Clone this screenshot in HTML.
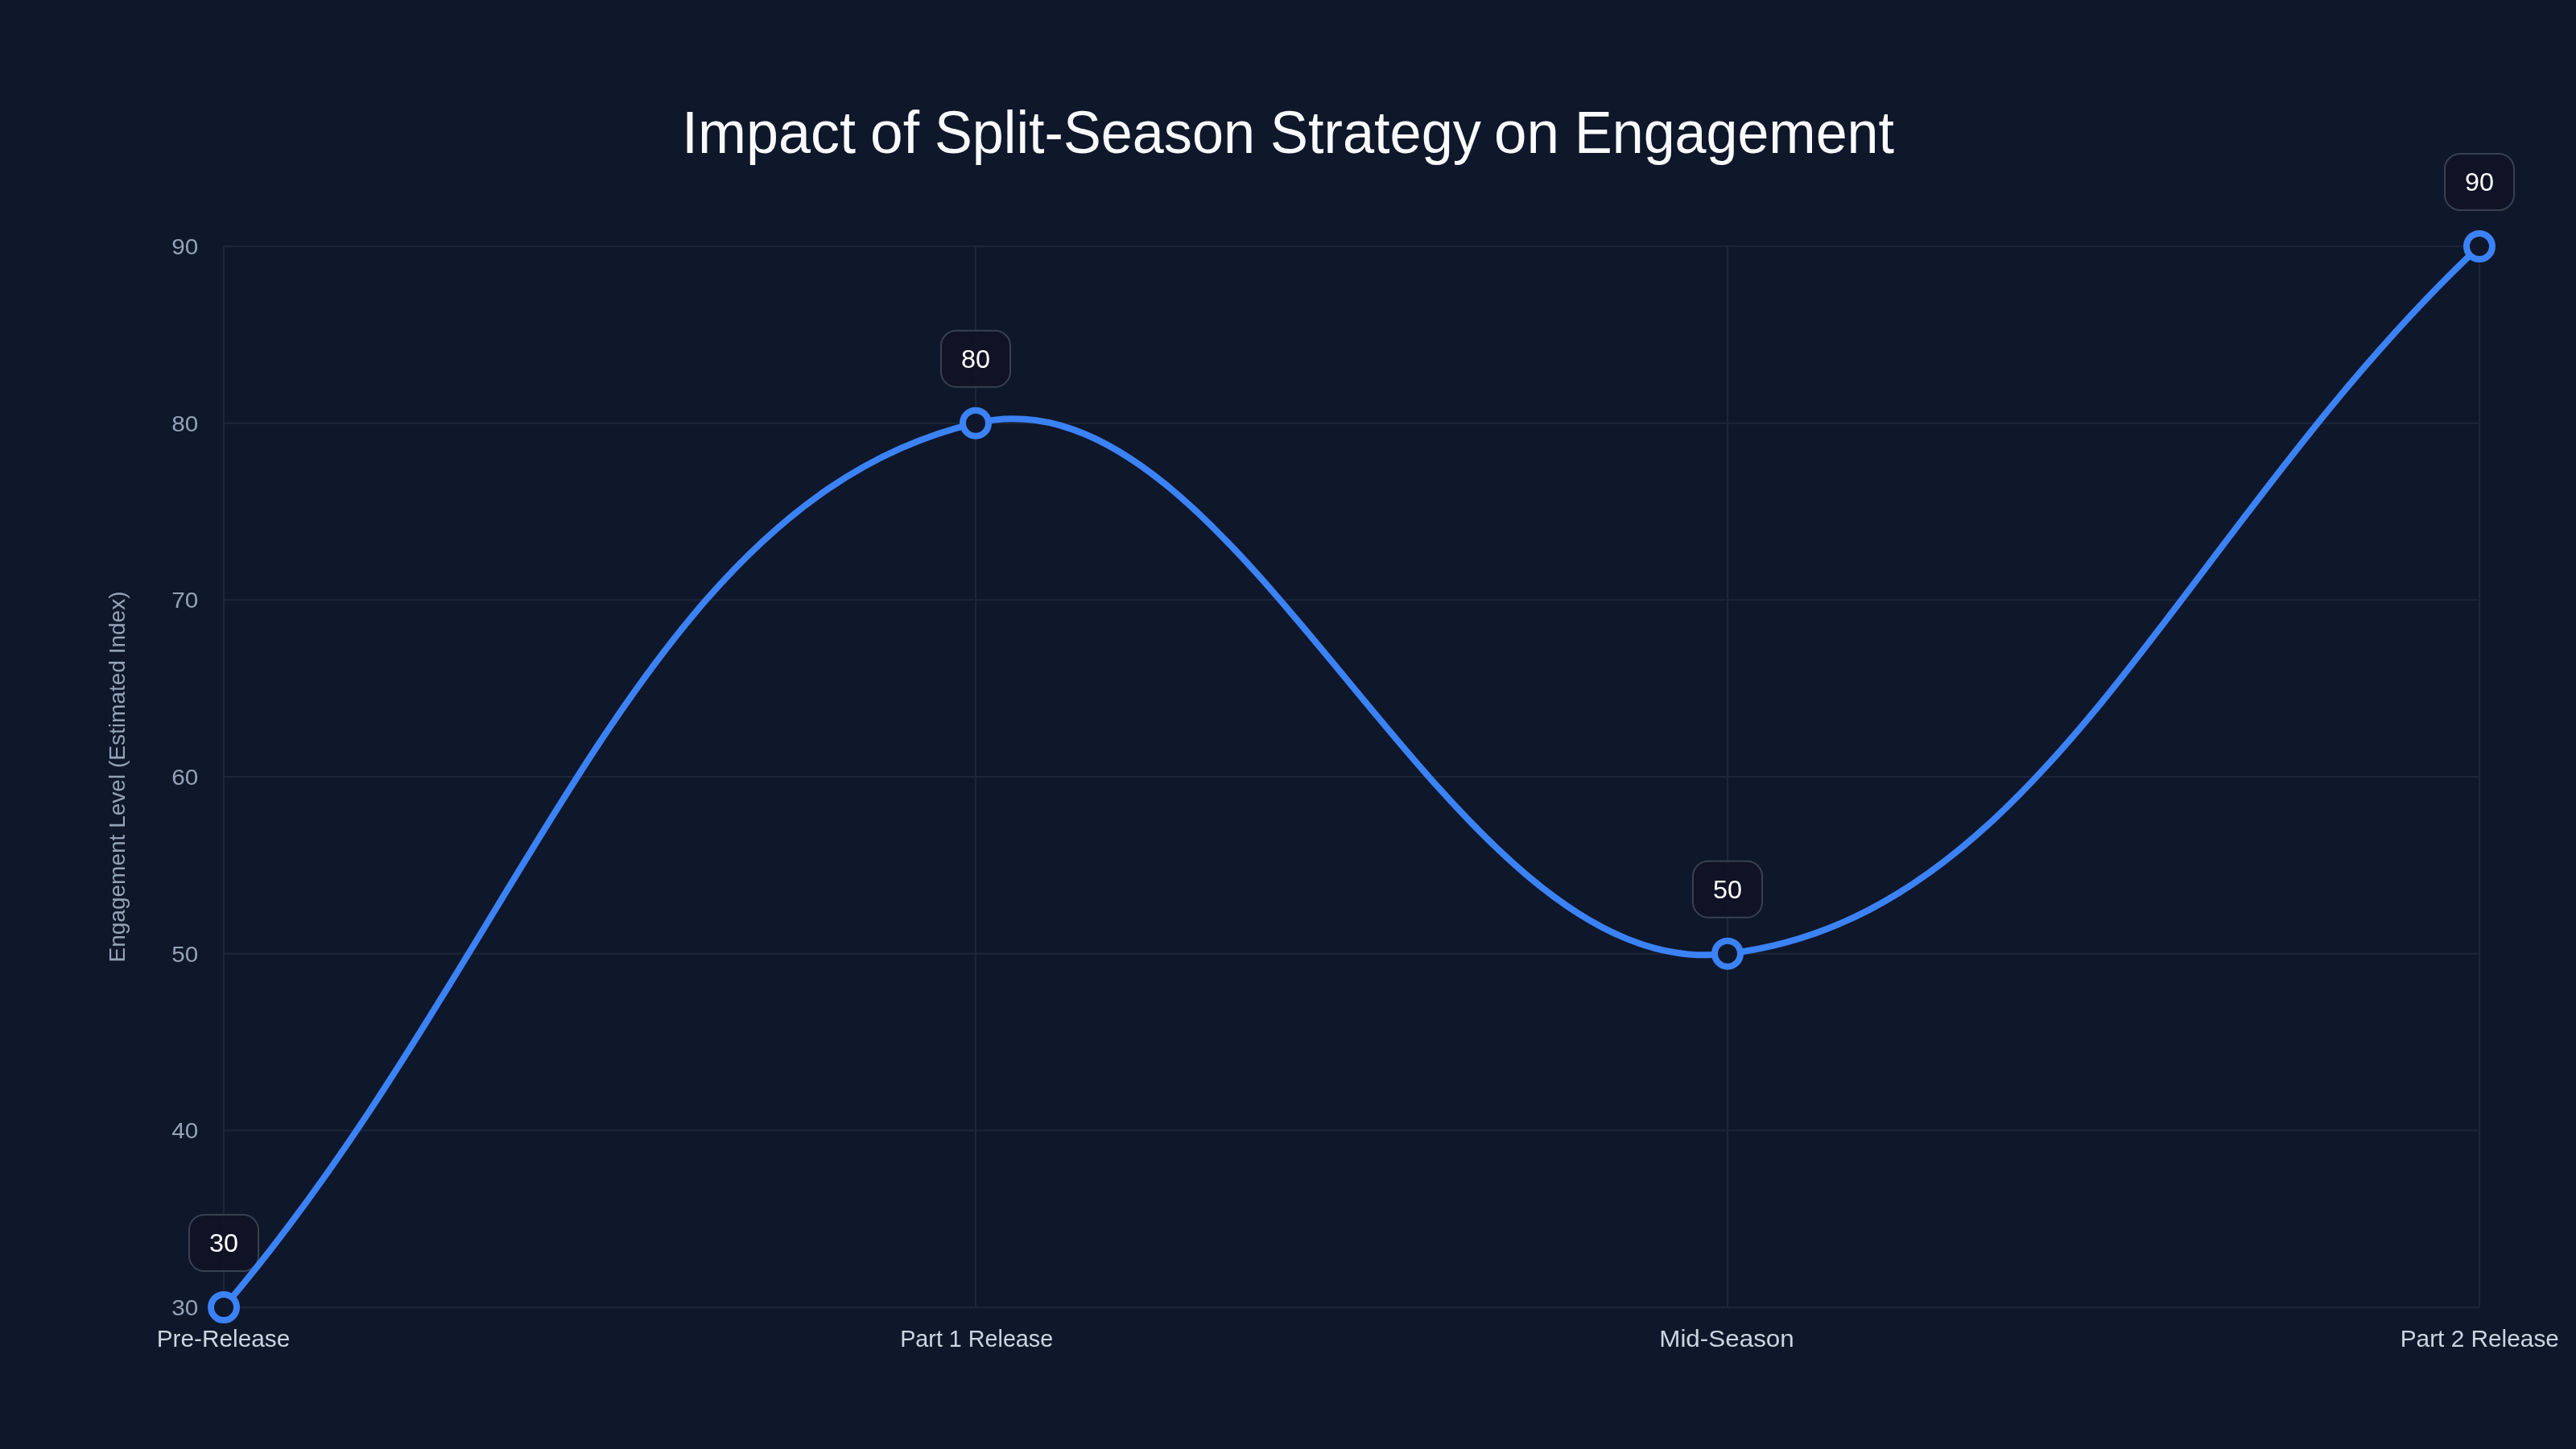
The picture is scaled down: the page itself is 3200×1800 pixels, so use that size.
<!DOCTYPE html>
<html><head><meta charset="utf-8">
<style>
html,body{margin:0;padding:0;background:#0f172a;width:100%;height:100%;overflow:hidden;}
svg{display:block;width:100vw;height:100vh;will-change:transform;}
text{font-family:"Liberation Sans",sans-serif;}
</style></head>
<body>
<svg viewBox="0 0 3200 1800">
<rect width="3200" height="1800" fill="#0f172a"/>

<g font-size="74" fill="#f8fafc">
<text x="847.0" y="190" textLength="216.0" lengthAdjust="spacingAndGlyphs">Impact</text>
<text x="1081.0" y="190" textLength="61.0" lengthAdjust="spacingAndGlyphs">of</text>
<text x="1161.0" y="190" textLength="398.0" lengthAdjust="spacingAndGlyphs">Split-Season</text>
<text x="1578.0" y="190" textLength="262.0" lengthAdjust="spacingAndGlyphs">Strategy</text>
<text x="1856.0" y="190" textLength="81.0" lengthAdjust="spacingAndGlyphs">on</text>
<text x="1956.0" y="190" textLength="397.0" lengthAdjust="spacingAndGlyphs">Engagement</text>
</g>
<g stroke="#1f2639" stroke-width="2" fill="none">
<path d="M278,306.0H3080M278,525.7H3080M278,745.3H3080M278,965.0H3080M278,1184.7H3080M278,1404.3H3080M278,1624.0H3080"/>
<path d="M278,306V1624M1212,306V1624M2146,306V1624M3080,306V1624"/>
</g>
<g font-size="28" fill="#94a3b8" text-anchor="end">
<text x="246.3" y="316.0" textLength="33.0" lengthAdjust="spacingAndGlyphs">90</text>
<text x="246.3" y="535.7" textLength="33.0" lengthAdjust="spacingAndGlyphs">80</text>
<text x="246.3" y="755.3" textLength="33.0" lengthAdjust="spacingAndGlyphs">70</text>
<text x="246.3" y="975.0" textLength="33.0" lengthAdjust="spacingAndGlyphs">60</text>
<text x="246.3" y="1194.7" textLength="33.0" lengthAdjust="spacingAndGlyphs">50</text>
<text x="246.3" y="1414.3" textLength="33.0" lengthAdjust="spacingAndGlyphs">40</text>
<text x="246.3" y="1634.0" textLength="33.0" lengthAdjust="spacingAndGlyphs">30</text>
</g>
<text transform="translate(155.4,965.0) rotate(-90)" font-size="28" fill="#94a3b8" text-anchor="middle" textLength="461.0" lengthAdjust="spacingAndGlyphs">Engagement Level (Estimated Index)</text>
<g font-size="30" fill="#cbd5e1" text-anchor="middle">
<text x="277.5" y="1673" textLength="165.5" lengthAdjust="spacingAndGlyphs">Pre-Release</text>
<text x="1213.2" y="1673" textLength="190.0" lengthAdjust="spacingAndGlyphs">Part 1 Release</text>
<text x="2145.0" y="1673" textLength="167.5" lengthAdjust="spacingAndGlyphs">Mid-Season</text>
<text x="3080.3" y="1673" textLength="197.2" lengthAdjust="spacingAndGlyphs">Part 2 Release</text>
</g>
<g fill="rgba(17,19,38,0.88)" stroke="#374151" stroke-width="2">
<rect x="235.0" y="1509.0" width="86.0" height="70.0" rx="19"/>
<rect x="1169.0" y="410.7" width="86.0" height="70.0" rx="19"/>
<rect x="2103.0" y="1069.7" width="86.0" height="70.0" rx="19"/>
<rect x="3037.0" y="191.0" width="86.0" height="70.0" rx="19"/>
</g>
<path d="M278.0,1624.0 C651.6,1184.7 795.2,623.7 1212.0,525.7 C1542.4,448.0 1793.9,1226.1 2146.0,1184.7 C2541.1,1138.2 2706.4,657.5 3080.0,306.0" fill="none" stroke="#3b82f6" stroke-width="8" stroke-linecap="round" stroke-linejoin="round"/>
<g fill="#0f172a" stroke="#3b82f6" stroke-width="8">
<circle cx="278" cy="1624" r="16"/>
<circle cx="1212" cy="525.7" r="16"/>
<circle cx="2146" cy="1184.7" r="16"/>
<circle cx="3080" cy="306" r="16"/>
</g>
<g font-size="32" fill="#ffffff" text-anchor="middle">
<text x="278.0" y="1555.0" textLength="36.0" lengthAdjust="spacingAndGlyphs">30</text>
<text x="1212.0" y="456.7" textLength="36.0" lengthAdjust="spacingAndGlyphs">80</text>
<text x="2146.0" y="1115.7" textLength="36.0" lengthAdjust="spacingAndGlyphs">50</text>
<text x="3080.0" y="237.0" textLength="36.0" lengthAdjust="spacingAndGlyphs">90</text>
</g>
</svg>
</body></html>
